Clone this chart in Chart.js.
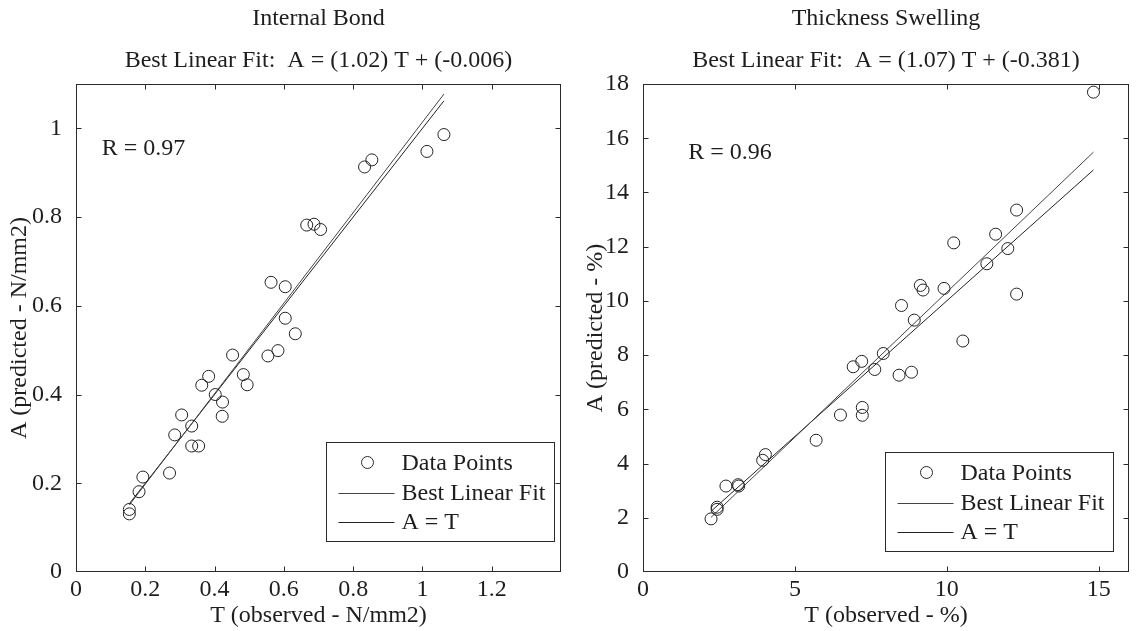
<!DOCTYPE html>
<html>
<head>
<meta charset="utf-8">
<script src="https://cdn.jsdelivr.net/npm/chart.js@4.4.1/dist/chart.umd.min.js"></script>
<style>
    html, body { margin: 0; padding: 0; background: #fff; }
    #wrap { position: relative; width: 1137px; height: 631px; }
    canvas { position: absolute; top: 0; }
    #bondChart { left: 0; }
    #swellChart { left: 568px; }
</style>
</head>
<body>
<div id="wrap">
    <canvas id="bondChart" width="568" height="631"></canvas>
    <canvas id="swellChart" width="569" height="631"></canvas>
</div>
<script>
// Internal Bond (N/mm2): observed T vs predicted A
const bondObserved = [0.154, 0.154, 0.182, 0.193, 0.270, 0.285, 0.305, 0.334, 0.334, 0.354, 0.363,
    0.383, 0.402, 0.423, 0.422, 0.452, 0.483, 0.494, 0.554, 0.583, 0.633, 0.604, 0.563, 0.604,
    0.666, 0.687, 0.706, 0.833, 0.854, 1.013, 1.062];
const bondPredicted = [0.141, 0.131, 0.181, 0.214, 0.223, 0.309, 0.354, 0.329, 0.284, 0.284, 0.421,
    0.441, 0.400, 0.383, 0.351, 0.489, 0.445, 0.422, 0.487, 0.499, 0.537, 0.572, 0.653, 0.643,
    0.782, 0.784, 0.772, 0.913, 0.929, 0.948, 0.986];
const bondFit = [1.02, -0.006];   // slope, intercept
const bondR = '0.97';
const bondXTicks = [0, 0.2, 0.4, 0.6, 0.8, 1, 1.2];
const bondYTicks = [0, 0.2, 0.4, 0.6, 0.8, 1];

// Thickness Swelling (%)
const swellObserved = [2.24, 2.44, 2.44, 2.73, 3.13, 3.15, 3.94, 4.03, 5.70, 6.50, 7.22, 7.22,
    6.92, 7.20, 7.63, 7.91, 8.43, 8.84, 8.51, 8.93, 10.53, 9.13, 9.22, 9.91, 10.23, 11.32, 11.61,
    12.01, 12.30, 12.30, 14.83];
const swellPredicted = [1.96, 2.39, 2.31, 3.17, 3.22, 3.17, 4.12, 4.33, 4.86, 5.79, 6.07, 5.78,
    7.57, 7.77, 7.47, 8.06, 7.26, 7.37, 9.83, 9.29, 8.52, 10.57, 10.40, 10.46, 12.14, 11.37, 12.46,
    11.93, 13.35, 10.25, 17.70];
const swellFit = [1.07, -0.381];
const swellR = '0.96';
const swellXTicks = [0, 5, 10, 15];
const swellYTicks = [0, 2, 4, 6, 8, 10, 12, 14, 16, 18];

const legendLabels = ['Data Points', 'Best Linear Fit', 'A = T'];

const SERIF = "'Liberation Serif', 'Times New Roman', serif";
const INK = '#1e1e1e';
Chart.defaults.font.family = SERIF;
Chart.defaults.color = INK;

// matlab-ish frame: box, inward ticks, titles, R text, legend
const matlabFrame = {
    id: 'matlabFrame',
    afterDatasetsDraw(chart, args, o) {
        const { ctx, chartArea: a, scales: { x, y } } = chart;
        const L = Math.round(a.left) + 0.5, R = Math.round(a.right) - 0.5;
        const T = Math.round(a.top) + 0.5, B = Math.round(a.bottom) - 0.5;
        ctx.save();
        ctx.strokeStyle = '#2a2a2a';
        ctx.lineWidth = 1;
        ctx.strokeRect(L, T, R - L, B - T);

        ctx.beginPath();
        x.ticks.forEach(t => {
            const px = Math.round(x.getPixelForValue(t.value)) + 0.5;
            if (px <= L + 1 || px >= R - 1) return;
            ctx.moveTo(px, B); ctx.lineTo(px, B - 5);
            ctx.moveTo(px, T); ctx.lineTo(px, T + 5);
        });
        y.ticks.forEach(t => {
            const py = Math.round(y.getPixelForValue(t.value)) + 0.5;
            if (py <= T + 1 || py >= B - 1) return;
            ctx.moveTo(L, py); ctx.lineTo(L + 5, py);
            ctx.moveTo(R, py); ctx.lineTo(R - 5, py);
        });
        ctx.stroke();

        ctx.fillStyle = INK;
        ctx.font = '24px ' + SERIF;
        ctx.textBaseline = 'middle';

        // titles
        ctx.textAlign = 'center';
        const cx = (a.left + a.right) / 2;
        ctx.fillText(o.title, cx, 19);
        ctx.fillText(o.subtitle, cx, 61);

        // R value
        ctx.textAlign = 'left';
        ctx.fillText('R = ' + o.r, x.getPixelForValue(o.rAt[0]), y.getPixelForValue(o.rAt[1]));

        // legend box
        const bw = 228, bh = 99;
        const bx = Math.round(a.right - o.legendRight - bw) + 0.5;
        const by = Math.round(a.bottom - o.legendBottom - bh) + 0.5;
        ctx.fillStyle = '#fff';
        ctx.fillRect(bx, by, bw, bh);
        ctx.strokeStyle = '#2a2a2a';
        ctx.strokeRect(bx, by, bw, bh);

        const rows = [by + 20, by + 50, by + 79];
        ctx.beginPath();
        ctx.arc(bx + 41, rows[0], 6, 0, Math.PI * 2);
        ctx.stroke();
        ctx.strokeStyle = '#444';
        ctx.beginPath();
        ctx.moveTo(bx + 12, Math.round(rows[1]) + 0.5); ctx.lineTo(bx + 68, Math.round(rows[1]) + 0.5);
        ctx.stroke();
        ctx.strokeStyle = '#222';
        ctx.beginPath();
        ctx.moveTo(bx + 12, Math.round(rows[2]) + 0.5); ctx.lineTo(bx + 68, Math.round(rows[2]) + 0.5);
        ctx.stroke();

        ctx.fillStyle = INK;
        legendLabels.forEach((lab, i) => ctx.fillText(lab, bx + 75, rows[i] + 1));
        ctx.restore();
    }
};

function lineThrough(xs, slope, intercept) {
    const lo = Math.min(...xs), hi = Math.max(...xs);
    return [{ x: lo, y: slope * lo + intercept }, { x: hi, y: slope * hi + intercept }];
}

const plainLabel = v => String(v);

function makeChart(id, cfg) {
    const points = cfg.observed.map((t, i) => ({ x: t, y: cfg.predicted[i] }));
    return new Chart(document.getElementById(id), {
        type: 'scatter',
        data: {
            datasets: [
                {
                    label: legendLabels[0],
                    data: points,
                    pointStyle: 'circle',
                    pointRadius: 6,
                    pointHoverRadius: 6,
                    borderWidth: 1,
                    borderColor: '#222',
                    backgroundColor: 'rgba(0,0,0,0)'
                },
                {
                    label: legendLabels[1],
                    data: lineThrough(cfg.observed, cfg.fit[0], cfg.fit[1]),
                    showLine: true,
                    pointRadius: 0,
                    borderWidth: 1,
                    borderColor: '#444'
                },
                {
                    label: legendLabels[2],
                    data: lineThrough(cfg.observed, 1, 0),
                    showLine: true,
                    pointRadius: 0,
                    borderWidth: 1,
                    borderColor: '#222'
                }
            ]
        },
        options: {
            responsive: false,
            animation: false,
            devicePixelRatio: 1,
            layout: { padding: { top: 84, right: cfg.padRight, left: 0, bottom: 0 } },
            plugins: {
                legend: { display: false },
                title: { display: false },
                tooltip: { enabled: false },
                matlabFrame: {
                    title: cfg.title,
                    subtitle: `Best Linear Fit:  A = (${cfg.fit[0].toFixed(2)}) T + (${cfg.fit[1]})`,
                    r: cfg.r,
                    rAt: cfg.rAt,
                    legendRight: cfg.legendRight,
                    legendBottom: cfg.legendBottom
                }
            },
            scales: {
                x: {
                    type: 'linear',
                    min: 0,
                    max: cfg.xMax,
                    afterBuildTicks: s => { s.ticks = cfg.xTicks.map(v => ({ value: v })); },
                    afterFit: s => { s.height = 59; },
                    grid: { display: false },
                    border: { display: false },
                    ticks: { font: { size: 24 }, padding: -5, color: INK, maxRotation: 0, callback: plainLabel },
                    title: { display: true, text: cfg.xLabel, font: { size: 24 }, color: INK, padding: { bottom: 1 } }
                },
                y: {
                    type: 'linear',
                    min: 0,
                    max: cfg.yMax,
                    afterBuildTicks: s => { s.ticks = cfg.yTicks.map(v => ({ value: v })); },
                    afterFit: s => { s.width = cfg.yWidth; },
                    grid: { display: false },
                    border: { display: false },
                    ticks: { font: { size: 24 }, padding: 6, color: INK, callback: plainLabel },
                    title: { display: true, text: cfg.yLabel, font: { size: 24 }, color: INK, padding: { top: cfg.yTitlePad } }
                }
            }
        },
        plugins: [matlabFrame]
    });
}

makeChart('bondChart', {
    title: 'Internal Bond',
    observed: bondObserved,
    predicted: bondPredicted,
    fit: bondFit,
    r: bondR,
    rAt: [0.074, 0.955],
    xTicks: bondXTicks,
    yTicks: bondYTicks,
    xMax: 1.4,
    yMax: 1.1,
    xLabel: 'T (observed - N/mm2)',
    yLabel: 'A (predicted - N/mm2)',
    yWidth: 76,
    yTitlePad: 5,
    padRight: 6,
    legendRight: 7,
    legendBottom: 31
});

makeChart('swellChart', {
    title: 'Thickness Swelling',
    observed: swellObserved,
    predicted: swellPredicted,
    fit: swellFit,
    r: swellR,
    rAt: [1.49, 15.45],
    xTicks: swellXTicks,
    yTicks: swellYTicks,
    xMax: 16,
    yMax: 18,
    xLabel: 'T (observed - %)',
    yLabel: 'A (predicted - %)',
    yWidth: 75,
    yTitlePad: 13,
    padRight: 8,
    legendRight: 16,
    legendBottom: 21
});
</script>
</body>
</html>
